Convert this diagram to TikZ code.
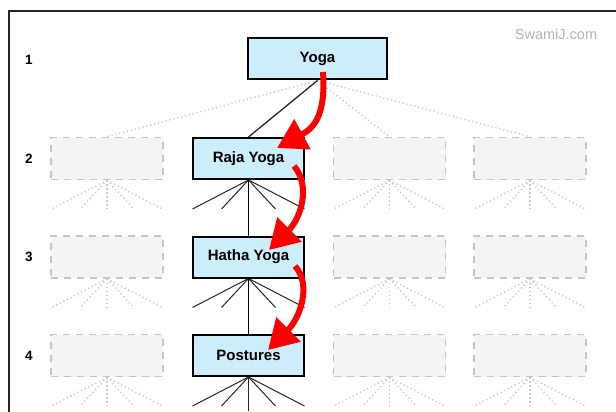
\documentclass[tikz,border=0pt]{standalone}
\usepackage{fontspec}
\setmainfont{Liberation Sans}
\usetikzlibrary{arrows.meta}
\pgfdeclarelayer{background}
\pgfdeclarelayer{canvas}
\pgfsetlayers{canvas,background,main}
\definecolor{boxblue}{HTML}{CCEEFB}
\definecolor{ghostline}{HTML}{C6C6C6}
\definecolor{ghostfill}{HTML}{F4F4F4}
\definecolor{dotgray}{HTML}{CBCBCB}
\definecolor{wmgray}{HTML}{B4B4B4}
\definecolor{arrowred}{HTML}{FF0000}
\begin{document}
\begin{tikzpicture}[x=1pt,y=-1pt,
  realbox/.style={draw=black, line width=2pt, fill=boxblue, minimum width=111pt, minimum height=41pt, inner sep=0pt, font=\fontsize{15}{17}\selectfont\bfseries},
  ghostbox/.style={draw=ghostline, line width=1.6pt, dash pattern=on 7pt off 6pt, fill=ghostfill, minimum width=112pt, minimum height=42pt, inner sep=0pt},
  rowlabel/.style={font=\fontsize{13.5}{15}\selectfont\bfseries, inner sep=0pt},
  fan/.style={draw=black!85, line width=1pt},
  link/.style={draw=black, line width=1.8pt},
  dotfan/.style={draw=dotgray, line width=1.5pt, dash pattern=on 1.2pt off 2.8pt},
  redarrow/.style={draw=arrowred, line width=6pt, -{Triangle[length=29pt,width=33pt]}},
]
\useasboundingbox (0,0) rectangle (616,412);
\begin{pgfonlayer}{canvas}
\fill[white] (0,0) rectangle (616,412);
\draw[line width=2pt, draw=black!85] (9,11) -- (616,11);
\draw[line width=2pt, draw=black!85] (9,10) -- (9,412);
\end{pgfonlayer}

% watermark and row labels
\node[font=\fontsize{14.5}{16}\selectfont, text=wmgray, inner sep=0pt] (wm) at (556,34) {SwamiJ.com};
\node[rowlabel] (l1) at (29,60) {1};
\node[rowlabel] (l2) at (29,158.5) {2};
\node[rowlabel] (l3) at (29,257) {3};
\node[rowlabel] (l4) at (29,355.5) {4};

% real boxes
\node[realbox, minimum width=139pt] (yoga) at (317.5,59) {Yoga};
\node[realbox] (r2) at (248.5,158.5) {Raja Yoga};
\node[realbox] (r3) at (248.5,257) {Hatha Yoga};
\node[realbox] (r4) at (248.5,355.5) {Postures};

% ghost boxes
\foreach \c/\x in {1/107,3/389.5,4/530}{
  \foreach \r/\y in {2/158.5,3/257,4/355.5}{
    \node[ghostbox] (g\c\r) at (\x,\y) {};
  }
}

\begin{pgfonlayer}{background}
  % links from Yoga
  \draw[dotfan] (yoga.south) -- (g12.north);
  \draw[dotfan] (yoga.south) -- (g32.north);
  \draw[dotfan] (yoga.south) -- (g42.north);
  \draw[fan, line width=1.3pt] (yoga.south) -- (r2.north);
  % ghost fans
  \foreach \c in {1,3,4}{
    \foreach \r in {2,3,4}{
      \foreach \dx in {-56,-27,0,27,56}{
        \draw[dotfan] (g\c\r.south) -- ++(\dx,29);
      }
    }
  }
  % real fans
  \foreach \r in {r2,r3,r4}{
    \foreach \dx in {-56,-27,27,56}{
      \draw[fan] (\r.south) -- ++(\dx,29);
    }
  }
  \draw[link] (r2.south) -- (r3.north);
  \draw[link] (r3.south) -- (r4.north);
  \draw[fan] (r4.south) -- ++(0,34);
\end{pgfonlayer}

% red arrows
\coordinate (a1s) at (323,72);
\coordinate (a1e) at (277,148);
\coordinate (a2s) at (294,166);
\coordinate (a2e) at (269,250);
\coordinate (a3s) at (295,266);
\coordinate (a3e) at (268,350);
\draw[redarrow] (a1s) .. controls (326,115) and (314,128) .. (a1e);
\draw[redarrow] (a2s) .. controls (311,186) and (301,218) .. (a2e);
\draw[redarrow] (a3s) .. controls (312,285) and (300,318) .. (a3e);
\end{tikzpicture}
\end{document}
